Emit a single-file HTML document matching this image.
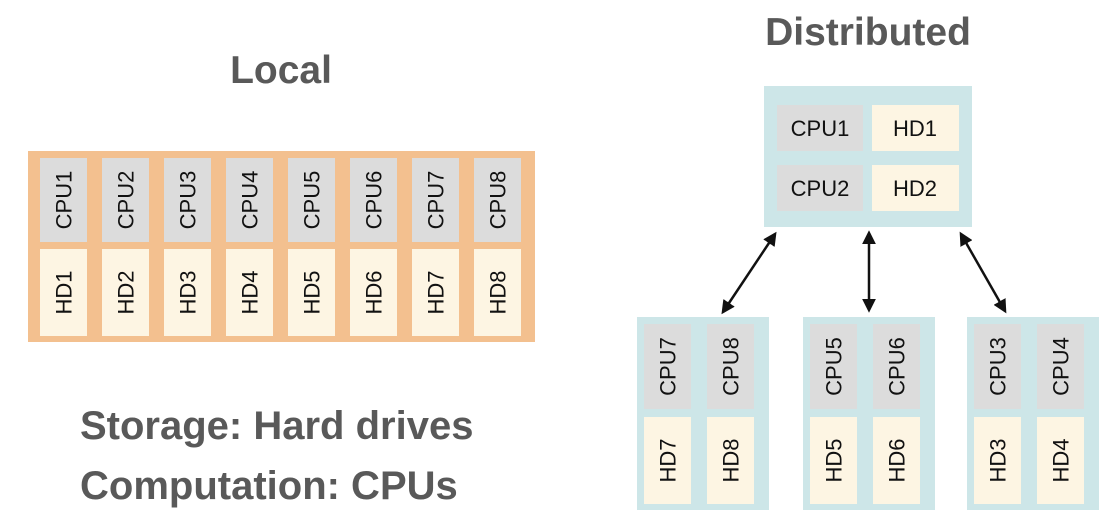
<!DOCTYPE html>
<html><head><style>
html,body{margin:0;padding:0;background:#fff;width:1108px;height:523px;overflow:hidden}
svg{display:block}
text{font-family:"Liberation Sans",Arial,sans-serif;}
.t{font-weight:bold;fill:#595959}
.c{font-size:22px;fill:#111}
</style></head><body>
<svg width="1108" height="523" viewBox="0 0 1108 523" xmlns="http://www.w3.org/2000/svg">
<defs>
<marker id="ah" viewBox="0 0 10 10" refX="8" refY="5" markerWidth="5.5" markerHeight="5.5" orient="auto-start-reverse">
<path d="M0,0 L10,5 L0,10 z" fill="#111"/>
</marker>
</defs>
<text class="t" x="281" y="83" font-size="39" text-anchor="middle">Local</text>
<text class="t" x="868" y="45" font-size="39" text-anchor="middle">Distributed</text>
<text class="t" x="80" y="439" font-size="40">Storage: Hard drives</text>
<text class="t" x="80" y="499" font-size="40">Computation: CPUs</text>

<rect x="28" y="151" width="507" height="191" fill="#f3c08f"/>
<g id="local"></g>

<rect x="764" y="86" width="208" height="141" fill="#cde6e8"/>
<rect x="777" y="105" width="86" height="46" fill="#dcdcdc"/>
<rect x="872" y="105" width="87" height="46" fill="#fdf5e3"/>
<rect x="777" y="165" width="86" height="46" fill="#dcdcdc"/>
<rect x="872" y="165" width="87" height="46" fill="#fdf5e3"/>
<text class="c" x="820" y="136" text-anchor="middle">CPU1</text>
<text class="c" x="915" y="136" text-anchor="middle">HD1</text>
<text class="c" x="820" y="196" text-anchor="middle">CPU2</text>
<text class="c" x="915" y="196" text-anchor="middle">HD2</text>

<rect x="637" y="317" width="132" height="193" fill="#cde6e8"/>
<rect x="803" y="317" width="132" height="193" fill="#cde6e8"/>
<rect x="967" y="317" width="132" height="193" fill="#cde6e8"/>

<g stroke="#111" stroke-width="2.5" fill="none">
<line x1="775" y1="234" x2="723" y2="312" marker-start="url(#ah)" marker-end="url(#ah)"/>
<line x1="869" y1="233" x2="869" y2="310" marker-start="url(#ah)" marker-end="url(#ah)"/>
<line x1="961" y1="234" x2="1005" y2="311" marker-start="url(#ah)" marker-end="url(#ah)"/>
</g>

<g id="cells"></g>
</svg>
<script>
(function(){
var ns="http://www.w3.org/2000/svg";
function cell(parent,x,y,w,h,fill,label){
 var r=document.createElementNS(ns,"rect");
 r.setAttribute("x",x);r.setAttribute("y",y);r.setAttribute("width",w);r.setAttribute("height",h);r.setAttribute("fill",fill);
 parent.appendChild(r);
 var t=document.createElementNS(ns,"text");
 var cx=x+w/2, cy=y+h/2;
 t.setAttribute("class","c");
 t.setAttribute("x",cx);t.setAttribute("y",cy+8);
 t.setAttribute("text-anchor","middle");
 t.setAttribute("transform","rotate(-90 "+cx+" "+cy+")");
 t.textContent=label;
 parent.appendChild(t);
}
var L=document.getElementById("local");
for(var i=0;i<8;i++){
 var x=40+i*62;
 cell(L,x,158,47,84,"#dcdcdc","CPU"+(i+1));
 cell(L,x,249,47,87,"#fdf5e3","HD"+(i+1));
}
var C=document.getElementById("cells");
var groups=[[644,7],[810,5],[974,3]];
groups.forEach(function(g){
 for(var k=0;k<2;k++){
  var x=g[0]+k*63, n=g[1]+k;
  cell(C,x,324,47,85,"#dcdcdc","CPU"+n);
  cell(C,x,417,47,87,"#fdf5e3","HD"+n);
 }
});
})();
</script>
</body></html>
